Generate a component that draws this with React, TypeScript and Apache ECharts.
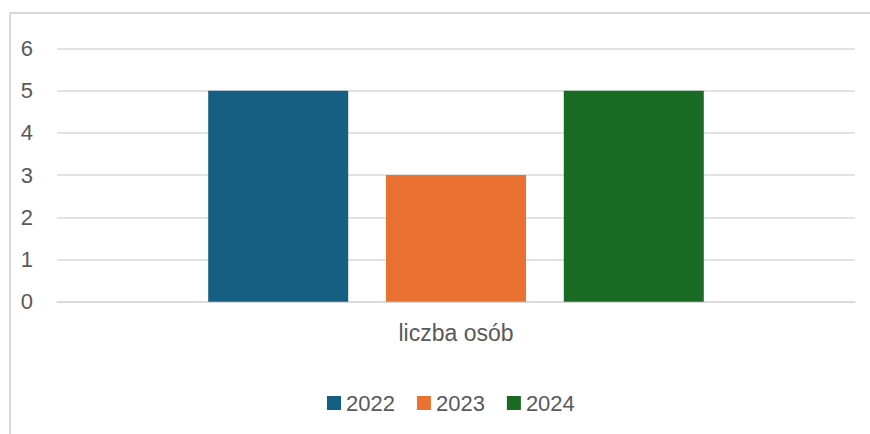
import React, { useEffect, useRef } from "react";
import * as echarts from "echarts";

const categories = ["liczba osób"];
const seriesNames = ["2022", "2023", "2024"];
const values2022 = [5];
const values2023 = [3];
const values2024 = [5];
const colors = ["#156082", "#E97132", "#196B24"];

export default function App() {
  const ref = useRef<HTMLDivElement>(null);
  useEffect(() => {
    document.body.style.margin = "0";
    const chart = echarts.init(ref.current!, null, { renderer: "svg" });
    const font = "'Liberation Sans', Arial, sans-serif";
    const data = [values2022, values2023, values2024];
    chart.setOption({
      animation: false,
      backgroundColor: "#ffffff",
      textStyle: { fontFamily: font },
      graphic: [
        {
          type: "rect",
          shape: { x: 10, y: 13, width: 900, height: 500 },
          style: { fill: "none", stroke: "#d9d9d9", lineWidth: 2 },
          silent: true,
        },
      ],
      grid: { left: 57, right: 15, top: 48.5, bottom: 132.3, containLabel: false },
      legend: {
        left: 322,
        top: 387,
        padding: 5,
        itemWidth: 14,
        itemHeight: 14,
        itemGap: 22,
        icon: "rect",
        textStyle: { fontSize: 22, color: "#595959", fontFamily: font },
        data: seriesNames,
      },
      xAxis: {
        type: "category",
        data: categories,
        axisLine: { show: true, lineStyle: { color: "#d9d9d9", width: 1.5 } },
        axisTick: { show: false },
        axisLabel: { fontSize: 23, color: "#595959", margin: 20, fontFamily: font },
      },
      yAxis: {
        type: "value",
        min: 0,
        max: 6,
        interval: 1,
        axisLine: { show: false },
        axisTick: { show: false },
        splitLine: { lineStyle: { color: "#d9d9d9", width: 1.5 } },
        axisLabel: { fontSize: 22, color: "#595959", margin: 24, fontFamily: font },
      },
      series: seriesNames.map((name, i) => ({
        name,
        type: "bar",
        data: data[i],
        barWidth: 140,
        barGap: "27%",
        itemStyle: { color: colors[i] },
      })),
    });
    return () => chart.dispose();
  }, []);
  return <div ref={ref} style={{ width: 870, height: 434 }} />;
}
